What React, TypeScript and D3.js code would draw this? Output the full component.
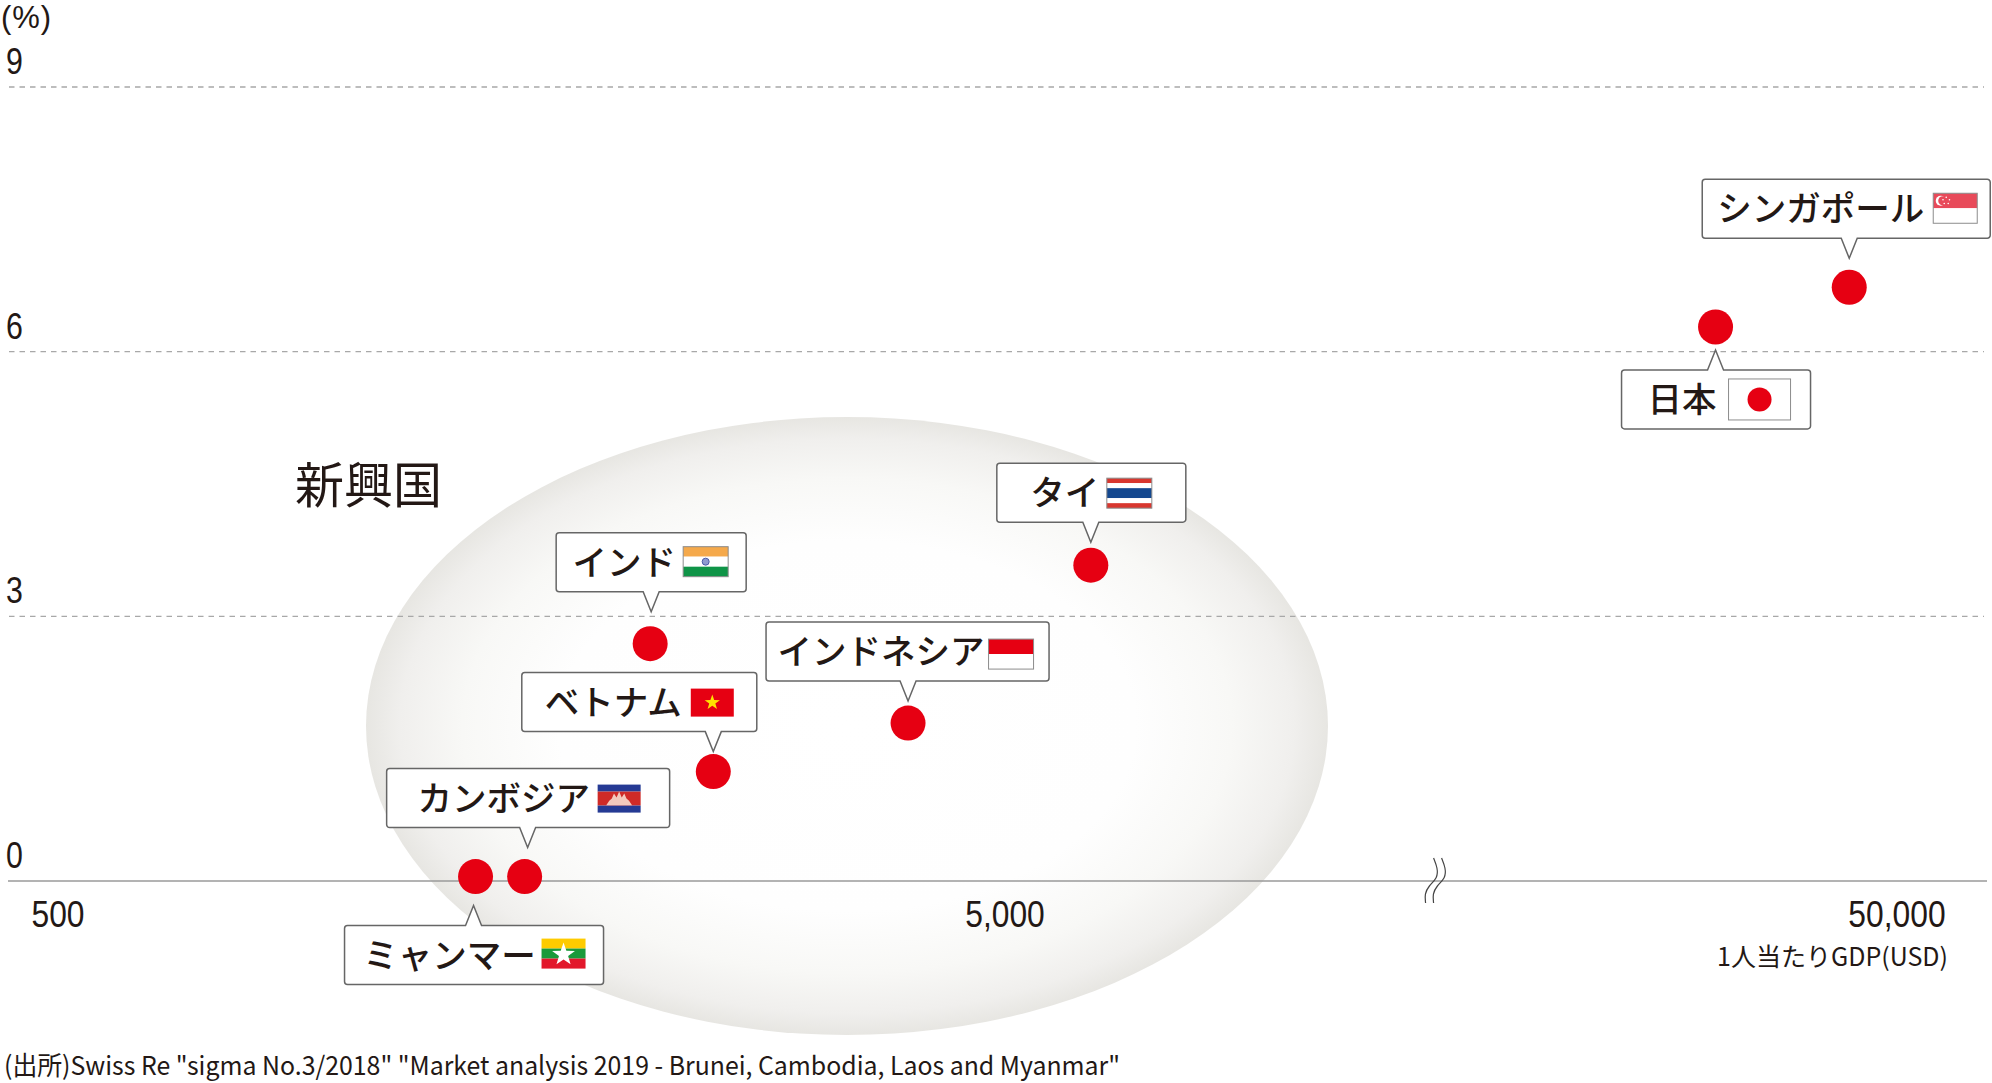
import * as d3 from 'd3';

const countries = ['ミャンマー', 'カンボジア', 'インド', 'ベトナム', 'インドネシア', 'タイ', '日本', 'シンガポール'];
const flagKinds = ['mm', 'kh', 'in', 'vn', 'id', 'th', 'jp', 'sg'];
const gdpPerCapita = [1380, 1555, 2110, 2460, 3950, 6240, 31300, 44200];
const penetration = [0.05, 0.05, 2.69, 1.24, 1.79, 3.58, 6.28, 6.73];
const yTicks = [0, 3, 6, 9];
const xTicks = [500, 5000, 50000];
const xBreakValue = 15000;

// callout placement relative to each dot: [dx, dy, boxWidth, tipDx, textCx, flagDx, flagDy, flagW, flagH]
const calloutLayout = [
  [-131, 49, 259, -2, 105, 197, 13, 44, 30],
  [-138, -108, 283, 3, 117, 211, 16, 43, 28],
  [-94, -111, 190, 1, 68, 127, 14, 45, 30],
  [-191.5, -99, 235, 0, 91.5, 169, 16, 43, 28],
  [-142, -101, 283, 0, 115, 222.5, 17, 45, 30],
  [-94, -102, 189, 0, 68, 110, 15, 45, 30],
  [-94, 43, 189, 0, 60.5, 107, 9, 62, 41],
  [-147, -108, 288, 0, 118.5, 231, 14, 44, 30],
];

const WIDTH = 1992;
const HEIGHT = 1083;
const INK = '#231815';
const RED = '#e60012';
const JP = '"Noto Sans CJK JP", sans-serif';
const LATIN = '"Liberation Sans", sans-serif';

const x = d3.scaleLog().domain([500, 5000, 50000]).range([58, 1005, 1897]);
const y = d3.scaleLinear().domain([0, 9]).range([881, 87]);

function calloutPath(bx: number, by: number, w: number, h: number, tipX: number, tipY: number) {
  const r = 3;
  const half = 8;
  const p = d3.path();
  const above = tipY > by;
  p.moveTo(bx + r, by);
  if (!above) {
    p.lineTo(tipX - half, by);
    p.lineTo(tipX, tipY);
    p.lineTo(tipX + half, by);
  }
  p.arcTo(bx + w, by, bx + w, by + r, r);
  p.arcTo(bx + w, by + h, bx + w - r, by + h, r);
  if (above) {
    p.lineTo(tipX + half, by + h);
    p.lineTo(tipX, tipY);
    p.lineTo(tipX - half, by + h);
  }
  p.arcTo(bx, by + h, bx, by + h - r, r);
  p.arcTo(bx, by, bx + r, by, r);
  p.closePath();
  return p.toString();
}

function starPoints(cx: number, cy: number, r: number) {
  const pts: string[] = [];
  for (let i = 0; i < 10; i++) {
    const a = -Math.PI / 2 + (i * Math.PI) / 5;
    const rr = i % 2 === 0 ? r : r * 0.4;
    pts.push(`${cx + rr * Math.cos(a)},${cy + rr * Math.sin(a)}`);
  }
  return pts.join(' ');
}

function Stripes({ w, h, bands }: { w: number; h: number; bands: [string, number][] }) {
  const total = d3.sum(bands, (d) => d[1]);
  let top = 0;
  return (
    <>
      {bands.map(([c, n], i) => {
        const el = <rect key={i} x={0} y={top} width={w} height={(h * n) / total} fill={c} />;
        top += (h * n) / total;
        return el;
      })}
    </>
  );
}

function Flag({ kind, w, h }: { kind: string; w: number; h: number }) {
  const border = <rect x={0} y={0} width={w} height={h} fill="none" stroke="#8c8c8c" strokeWidth={1} />;
  if (kind === 'mm') {
    return (
      <>
        <Stripes w={w} h={h} bands={[['#fecb00', 1], ['#1a9a3b', 1], ['#e2172b', 1]]} />
        <polygon points={starPoints(w / 2, h / 2 + 1, 12)} fill="#fff" />
      </>
    );
  }
  if (kind === 'kh') {
    return (
      <>
        <Stripes w={w} h={h} bands={[['#253a94', 1], ['#cf2a27', 2], ['#253a94', 1]]} />
        <path
          d={`M${w * 0.2} ${h * 0.74} L${w * 0.27} ${h * 0.58} L${w * 0.33} ${h * 0.5} L${w * 0.38} ${h * 0.32} L${w * 0.44} ${h * 0.46} L${w * 0.5} ${h * 0.25} L${w * 0.56} ${h * 0.46} L${w * 0.62} ${h * 0.32} L${w * 0.67} ${h * 0.5} L${w * 0.73} ${h * 0.58} L${w * 0.8} ${h * 0.74} Z`}
          fill="#f3c9bd"
        />
      </>
    );
  }
  if (kind === 'in') {
    return (
      <>
        <Stripes w={w} h={h} bands={[['#f5a94b', 1], ['#fff', 1], ['#0f9447', 1]]} />
        <circle cx={w / 2} cy={h / 2} r={3.5} fill="#8f9bd0" stroke="#4a5aa8" strokeWidth={1} />
        {border}
      </>
    );
  }
  if (kind === 'vn') {
    return (
      <>
        <rect width={w} height={h} fill={RED} />
        <polygon points={starPoints(w / 2, h / 2, 8)} fill="#ffe100" />
      </>
    );
  }
  if (kind === 'id') {
    return (
      <>
        <Stripes w={w} h={h} bands={[[RED, 1], ['#fff', 1]]} />
        {border}
      </>
    );
  }
  if (kind === 'th') {
    return (
      <>
        <Stripes w={w} h={h} bands={[['#d8372f', 1], ['#fff', 1], ['#14488f', 2], ['#fff', 1], ['#d8372f', 1]]} />
        {border}
      </>
    );
  }
  if (kind === 'jp') {
    return (
      <>
        <rect width={w} height={h} fill="#fff" />
        <circle cx={w / 2} cy={h / 2} r={12} fill={RED} />
        {border}
      </>
    );
  }
  // sg
  return (
    <>
      <Stripes w={w} h={h} bands={[['#e84a5a', 1], ['#fff', 1]]} />
      <circle cx={7.5} cy={7.5} r={5} fill="#fff" />
      <circle cx={9.5} cy={7.5} r={4.5} fill="#e84a5a" />
      {[0, 1, 2, 3, 4].map((i) => {
        const a = -Math.PI / 2 + (i * 2 * Math.PI) / 5;
        return <circle key={i} cx={13 + 3.4 * Math.cos(a)} cy={7.5 + 3.4 * Math.sin(a)} r={0.8} fill="#fff" />;
      })}
      {border}
    </>
  );
}

export default function App() {
  const bx = x(xBreakValue);
  const wave = d3.line().curve(d3.curveBasis);
  const wavePts: [number, number][] = [
    [2, 858],
    [6, 868],
    [6, 878],
    [-3, 886],
    [-7, 894],
    [-6, 903],
  ];
  return (
    <svg
      width={WIDTH}
      height={HEIGHT}
      viewBox={`0 0 ${WIDTH} ${HEIGHT}`}
      style={{ position: 'absolute', left: 0, top: 0, display: 'block', background: '#fff' }}
    >
      <defs>
        <radialGradient id="emerging">
          <stop offset="0" stopColor="#ffffff" />
          <stop offset="0.6" stopColor="#fefefe" />
          <stop offset="0.8" stopColor="#f8f8f6" />
          <stop offset="0.93" stopColor="#f0efed" />
          <stop offset="1" stopColor="#e7e6e2" />
        </radialGradient>
      </defs>

      <ellipse cx={847} cy={726} rx={481} ry={309} fill="url(#emerging)" />

      {/* Grid */}
      {yTicks.map((t) => (
        <g key={t}>
          {t === 0 ? (
            <line x1={8} x2={1987} y1={y(t)} y2={y(t)} stroke="#9a9a9a" strokeWidth={1.5} />
          ) : (
            <line x1={9} x2={1984} y1={y(t)} y2={y(t)} stroke="#a8a8a8" strokeWidth={1.3} strokeDasharray="5.5 5" />
          )}
          <text transform={`translate(6,${y(t) - 13}) scale(0.82,1)`} fontFamily={LATIN} fontSize={37} fill={INK}>
            {t}
          </text>
        </g>
      ))}
      <text x={1} y={28} textLength={50} fontFamily={LATIN} fontSize={31} fill={INK}>
        (%)
      </text>

      {/* Axis break */}
      {[0, 8].map((off) => (
        <path
          key={off}
          d={wave(wavePts.map(([a, b]) => [bx + a + off + 1, b] as [number, number])) ?? ''}
          fill="none"
          stroke="#444"
          strokeWidth={1.2}
        />
      ))}

      {/* X ticks */}
      {xTicks.map((t) => (
        <text
          key={t}
          transform={`translate(${x(t)},927) scale(0.86,1)`}
          textAnchor="middle"
          fontFamily={LATIN}
          fontSize={37}
          fill={INK}
        >
          {d3.format(',')(t)}
        </text>
      ))}
      <text x={1948} y={966} textAnchor="end" fontFamily={JP} fontSize={25} fill={INK}>
        1人当たりGDP(USD)
      </text>

      <text x={295} y={503} fontFamily={JP} fontSize={49} fill={INK}>
        新興国
      </text>

      {/* Dots */}
      {countries.map((c, i) => (
        <circle key={c} cx={x(gdpPerCapita[i])} cy={y(penetration[i])} r={17.5} fill={RED} />
      ))}

      {/* Callouts */}
      {countries.map((c, i) => {
        const [dx, dy, w, tipDx, textCx, flagDx, flagDy, flagW, flagH] = calloutLayout[i];
        const cx = x(gdpPerCapita[i]);
        const cy = y(penetration[i]);
        const left = cx + dx;
        const top = cy + dy;
        const h = 59;
        const tipY = dy > 0 ? top - 20 : top + h + 20;
        return (
          <g key={c}>
            <path d={calloutPath(left, top, w, h, cx + tipDx, tipY)} fill="#fff" stroke="#666" strokeWidth={1.5} />
            <text
              x={left + textCx}
              y={top + 42}
              textAnchor="middle"
              fontFamily={JP}
              fontSize={34.5}
              fontWeight={500}
              fill={INK}
            >
              {c}
            </text>
            <g transform={`translate(${left + flagDx},${top + flagDy})`}>
              <Flag kind={flagKinds[i]} w={flagW} h={flagH} />
            </g>
          </g>
        );
      })}

      <text x={4} y={1075} textLength={1116} lengthAdjust="spacingAndGlyphs" fontFamily={JP} fontSize={26} fill={INK}>
        {'(出所)Swiss Re "sigma No.3/2018" "Market analysis 2019 - Brunei, Cambodia, Laos and Myanmar"'}
      </text>
    </svg>
  );
}
